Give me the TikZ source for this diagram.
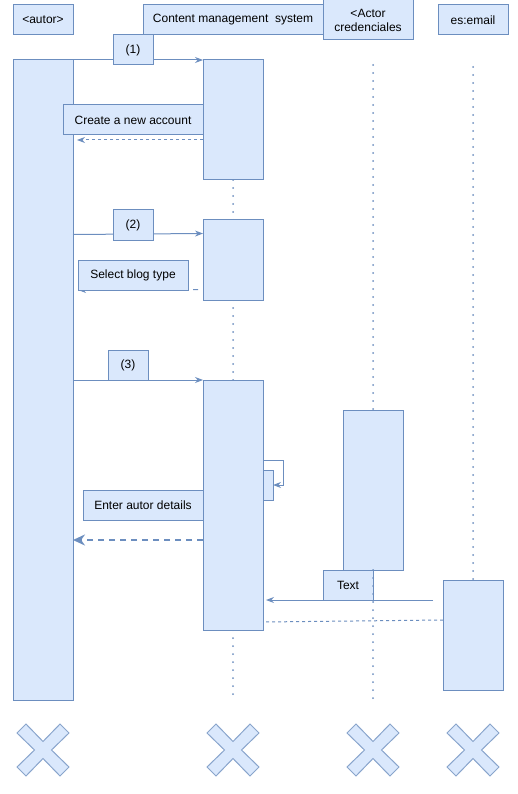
\documentclass[tikz,border=0pt]{standalone}
\usepackage{fontspec}
\setmainfont{Liberation Sans}
\usetikzlibrary{arrows.meta}
\definecolor{boxfill}{HTML}{DAE8FC}
\definecolor{boxline}{HTML}{6C8EBF}
\tikzset{
  box/.style={draw=boxline, fill=boxfill, line width=1pt, inner sep=0pt, outer sep=0pt,
    font=\fontsize{12}{14}\selectfont, align=center},
  bar/.style={draw=boxline, fill=boxfill, line width=1pt, inner sep=0pt, outer sep=0pt, anchor=north west},
  lifeline/.style={draw=boxline, line width=2pt, line cap=round, dash pattern=on 0pt off 8pt},
  msg/.style={draw=boxline, line width=1pt, -{Stealth[length=8pt,width=6pt]}},
  ret/.style={draw=boxline, line width=1pt, dash pattern=on 3pt off 3pt, -{Stealth[length=8pt,width=6pt]}},
  bigret/.style={draw=boxline, line width=2pt, dash pattern=on 6pt off 5pt, -{Stealth[length=12pt,width=11pt]}},
  destroy/.style={draw=boxline!80, fill=boxfill, line width=1pt},
}
\newcommand{\destroymark}[1]{%
  \path[destroy, shift={#1}] (-17,-26) -- (0,-8.5) -- (17,-26) -- (26,-17) -- (8.5,0) -- (26,17)
    -- (17,26) -- (0,8.5) -- (-17,26) -- (-26,17) -- (-8.5,0) -- (-26,-17) -- cycle;}
\begin{document}
\begin{tikzpicture}[x=1pt, y=-1pt]
\useasboundingbox (0,0) rectangle (517,794);

% lifeline heads
\node[box, minimum width=60, minimum height=30] (autor) at (43,20) {<autor>};
\node[box, minimum width=180, minimum height=30] (cms) at (233,20) {Content management~ system};
\node[box, minimum width=90, minimum height=40] (cred) at (368,20) {<Actor\\credenciales};
\node[box, minimum width=70, minimum height=30] (email) at (473,20) {es:email};

% dotted lifelines
\coordinate (cmsA) at (233,180); \coordinate (cmsB) at (233,220);
\coordinate (cmsC) at (233,300); \coordinate (cmsD) at (233,380);
\coordinate (cmsE) at (233,630); \coordinate (cmsEnd) at (233,696);
\coordinate (credTop) at (373,65); \coordinate (credA) at (373,410);
\coordinate (credB) at (373,570); \coordinate (credEnd) at (373,700);
\coordinate (emailTop) at (473,67); \coordinate (emailA) at (473,580);
\draw[lifeline] (cmsA) -- (cmsB);
\draw[lifeline] (cmsC) -- (cmsD);
\draw[lifeline] (cmsE) -- (cmsEnd);
\draw[lifeline] (credTop) -- (credA);
\draw[lifeline] (emailTop) -- (emailA);

% activation bars
\node[bar, minimum width=60, minimum height=640] (autorbar) at (13,60) {};
\node[bar, minimum width=60, minimum height=120] (cms1) at (203,60) {};
\node[bar, minimum width=60, minimum height=80] (cms2) at (203,220) {};
\node[bar, minimum width=60, minimum height=250] (cms3) at (203,380) {};
\node[bar, minimum width=60, minimum height=160] (credbar) at (343,410) {};
\node[bar, minimum width=60, minimum height=110] (emailbar) at (443,580) {};

% message (1) and its reply
\draw[msg] (autorbar.east |- 0,60) -- (cms1.west |- 0,60);
\node[box, minimum width=40, minimum height=30] (m1) at (133,50) {(1)};
\draw[ret] (cms1.west |- 0,140) -- ([xshift=4pt]autorbar.east |- 0,140);
\node[box, minimum width=140, minimum height=30] (l1) at (133,120) {Create a new account};

% message (2) and its reply
\draw[msg] (autorbar.east |- 0,234.5) -- (cms2.west |- 0,233.5);
\node[box, minimum width=40, minimum height=30] (m2) at (133,225) {(2)};
\draw[ret, dash pattern=on 5pt off 5pt] ([xshift=-5pt]cms2.west |- 0,289.5) -- ([xshift=5pt]autorbar.east |- 0,290);
\node[box, minimum width=110, minimum height=30] (l2) at (133,275) {Select blog type};

% message (3)
\draw[msg] (autorbar.east |- 0,380) -- (cms3.west |- 0,380);
\node[box, minimum width=40, minimum height=30] (m3) at (128,365) {(3)};

% self call on the content management system
\node[bar, minimum width=10, minimum height=30] (self) at (263,470) {};
\coordinate (selfA) at (283,460);
\draw[msg] (cms3.east |- 0,460) -- (selfA) -- (selfA |- 0,485) -- (self.east |- 0,485);

% reply after author details
\node[box, minimum width=120, minimum height=30] (l3) at (143,505) {Enter autor details};
\draw[bigret] (cms3.west |- 0,540) -- (autorbar.east |- 0,540);

% email to content management system
\draw[msg] ([xshift=-10pt]emailbar.west |- 0,600) -- ([xshift=3pt]cms3.east |- 0,600);
\node[box, minimum width=50, minimum height=30] (l4) at (348,585) {Text};
\draw[lifeline] (credB) -- (credEnd);
\draw[boxline, line width=1pt, dash pattern=on 3pt off 3pt] (emailbar.west |- 0,620) -- (cms3.east |- 0,622);

% destruction marks
\destroymark{(43,750)}
\destroymark{(233,750)}
\destroymark{(373,750)}
\destroymark{(473,750)}
\end{tikzpicture}
\end{document}
